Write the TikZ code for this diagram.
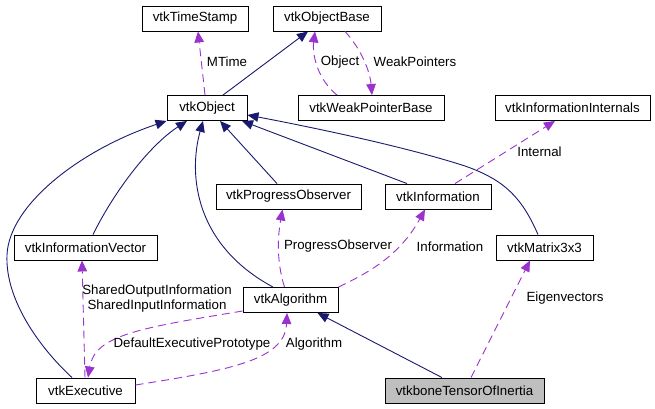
\documentclass[tikz,border=0pt]{standalone}
\usepackage{fontspec}
\setmainfont{Liberation Sans}
\usetikzlibrary{arrows.meta}
\definecolor{edgeblue}{HTML}{191970}
\definecolor{edgepurple}{HTML}{9A32CD}
\definecolor{focusgray}{HTML}{BFBFBF}
\newcommand{\rowa}{18.5}
\newcommand{\rowb}{108}
\newcommand{\rowc}{196.5}
\newcommand{\rowd}{247.5}
\newcommand{\rowe}{300}
\newcommand{\rowf}{390.5}
\newcommand{\boxh}{25pt}

\begin{document}
\begin{tikzpicture}[x=1pt,y=-1pt,font=\fontsize{13.3}{15}\selectfont,
    cls/.style={draw,line width=0.9pt,minimum height=\boxh,inner sep=0pt},
    inherit/.style={draw=edgeblue,line width=0.9pt,
      -{Triangle[length=11pt,width=9.5pt]}},
    usage/.style={draw=edgepurple,line width=0.9pt,
      dash pattern=on 8pt off 5pt,-{Triangle[length=11pt,width=9.5pt]}},
    lbl/.style={inner sep=0pt}]
    \useasboundingbox (0,0) rectangle (655,409);

    \node[cls,minimum width=106pt] (timestamp) at (195,\rowa) {vtkTimeStamp};
    \node[cls,minimum width=108pt] (objbase) at (327,\rowa) {vtkObjectBase};
    \node[cls,minimum width=80pt] (object) at (207,\rowb) {vtkObject};
    \node[cls,minimum width=146pt] (weakptr) at (371,\rowb) {vtkWeakPointerBase};
    \node[cls,minimum width=155pt] (infoint) at (572.5,\rowb) {vtkInformationInternals};
    \node[cls,minimum width=145pt] (progobs) at (288.5,\rowc) {vtkProgressObserver};
    \node[cls,minimum width=106pt] (info) at (438,\rowc) {vtkInformation};
    \node[cls,minimum width=143pt] (infovec) at (85.5,\rowd) {vtkInformationVector};
    \node[cls,minimum width=97pt] (matrix) at (544.5,\rowd) {vtkMatrix3x3};
    \node[cls,minimum width=95pt] (algo) at (290.5,\rowe) {vtkAlgorithm};
    \node[cls,minimum width=99pt] (exec) at (85.5,\rowf) {vtkExecutive};
    \node[cls,minimum width=159pt,fill=focusgray] (tensor) at (464.5,\rowf)
      {vtkboneTensorOfInertia};

    % inheritance
    \draw[inherit] ([xshift=16pt]object.north) -- ([xshift=-19pt]objbase.south);
    \draw[inherit] ([xshift=-31pt]info.north) -- ([xshift=35pt]object.south);
    \draw[inherit] ([xshift=-6.5pt]matrix.north)
      .. controls (522,198) and (505,180) .. (465,166)
      .. controls (400,145) and (300,125) .. ([yshift=-7pt]object.east);
    \draw[inherit] ([xshift=-11.5pt]progobs.north) -- ([xshift=13pt]object.south);
    \draw[inherit] ([xshift=-17.5pt]algo.north)
      .. controls (195,245) and (188,175) .. ([xshift=-4pt]object.south);
    \draw[inherit] ([xshift=7.5pt]infovec.north)
      .. controls (115,190) and (150,145) .. ([xshift=-20pt]object.south);
    \draw[inherit] ([xshift=-13.5pt]exec.north)
      .. controls (40,348) and (5,300) .. (7,255)
      .. controls (9,205) and (80,150) .. (object.south west);
    \draw[inherit] ([xshift=-22.5pt]tensor.north) -- ([xshift=27pt]algo.south);

    % usage
    \draw[usage] ([xshift=-2pt]object.north) -- ([xshift=3pt]timestamp.south);
    \node[lbl] (lmtime) at (227,62) {MTime};
    \draw[usage] ([xshift=-34pt]weakptr.north)
      .. controls (318,80) and (312,55) .. ([xshift=-12pt]objbase.south);
    \node[lbl] (lobject) at (340,62) {Object};
    \draw[usage] ([xshift=18pt]objbase.south)
      .. controls (362,50) and (370,72) .. ([xshift=1pt]weakptr.north);
    \node[lbl] (lweak) at (415,62) {WeakPointers};
    \draw[usage] ([xshift=17pt]info.north) -- ([xshift=-17.5pt]infoint.south);
    \node[lbl] (linternal) at (539.5,152) {Internal};
    \draw[usage] (algo.north east)
      .. controls (370,272) and (400,255) .. ([xshift=-13pt]info.south);
    \node[lbl] (linfo) at (450,247) {Information};
    \draw[usage] ([xshift=-6pt]algo.north)
      .. controls (276,260) and (278,235) .. ([xshift=-6pt]progobs.south);
    \node[lbl] (lprogobs) at (338,246) {ProgressObserver};
    \draw[usage] ([xshift=-0.5pt]exec.north) -- ([xshift=-3.5pt]infovec.south);
    \node[lbl,align=center] (lshared) at (157,299)
      {SharedOutputInformation\\SharedInputInformation};
    \draw[usage] ([yshift=-11pt]algo.west)
      .. controls (140,328) and (95,335) .. ([xshift=2.5pt]exec.north);
    \node[lbl] (ldefault) at (192,344) {DefaultExecutivePrototype};
    \draw[usage] ([yshift=5.5pt]exec.east)
      .. controls (230,370) and (285,360) .. ([xshift=-3.5pt]algo.south);
    \node[lbl] (lalgo) at (314,344) {Algorithm};
    \draw[usage] ([xshift=6.5pt]tensor.north) -- ([xshift=-14.5pt]matrix.south);
    \node[lbl] (leigen) at (565,298) {Eigenvectors};
\end{tikzpicture}
\end{document}
